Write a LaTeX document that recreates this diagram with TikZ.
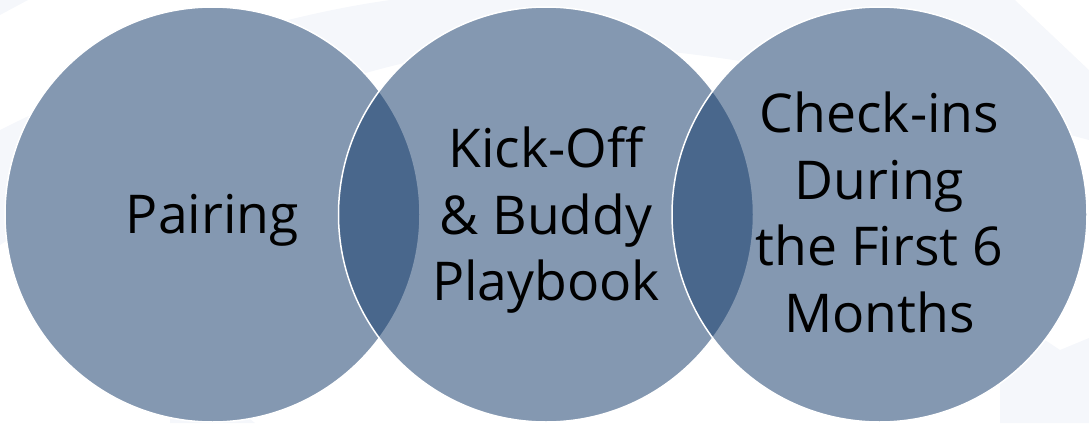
\documentclass[tikz,border=0pt]{standalone}
\usepackage{fontspec}
\setmainfont{Open Sans}
\usepackage{tikz}
\usetikzlibrary{positioning,backgrounds}
\definecolor{circfill}{RGB}{20,59,107}
\definecolor{bgtint}{RGB}{245,247,251}

\begin{document}
\begin{tikzpicture}[x=1pt,y=-1pt,
  stage/.style={circle,draw=white,line width=1.5pt,fill=circfill,
                fill opacity=0.52,minimum size=415pt,inner sep=0pt},
  stagetext/.style={align=center,inner sep=0pt,text=black,
                    font=\fontsize{53.5}{66.7}\selectfont}
]
\useasboundingbox (0,0) rectangle (1089,423);

\node[stage] (pairing) at (212.5,214.5) {};
\node[stage, right=-83pt of pairing] (kickoff) {};
\node[stage, right=-83pt of kickoff] (checkins) {};

\node[stagetext] (pairingtext) at ([yshift=-5.5pt]pairing) {Pairing};
\node[stagetext] (kickofftext) at ([yshift=-5.5pt]kickoff) {Kick-Off\\\& Buddy\\Playbook};
\node[stagetext] (checkinstext) at ([yshift=2pt]checkins) {Check-ins\\During\\the First 6\\Months};

\begin{scope}[on background layer]
\fill[bgtint] (0,0) -- (28,0) -- (0,15) -- cycle;
\fill[bgtint] (0,130) .. controls (120,70) and (250,20) .. (390,0) -- (1089,0)
  -- (1089,140) .. controls (900,90) and (720,45) .. (550,45)
  .. controls (380,45) and (180,130) .. (0,245) -- cycle;
\fill[white] (1015,0) -- (1089,0) -- (1089,70) -- cycle;
\fill[bgtint] (1089,338) -- (1060,350) -- (1000,310) -- (1000,423) -- (1089,423) -- cycle;
\fill[bgtint] (170,355) -- (255,423) -- (170,423) -- cycle;
\foreach \c in {pairing,kickoff,checkins}
  \fill[white] (\c) circle (207.5pt);
\end{scope}
\end{tikzpicture}
\end{document}
